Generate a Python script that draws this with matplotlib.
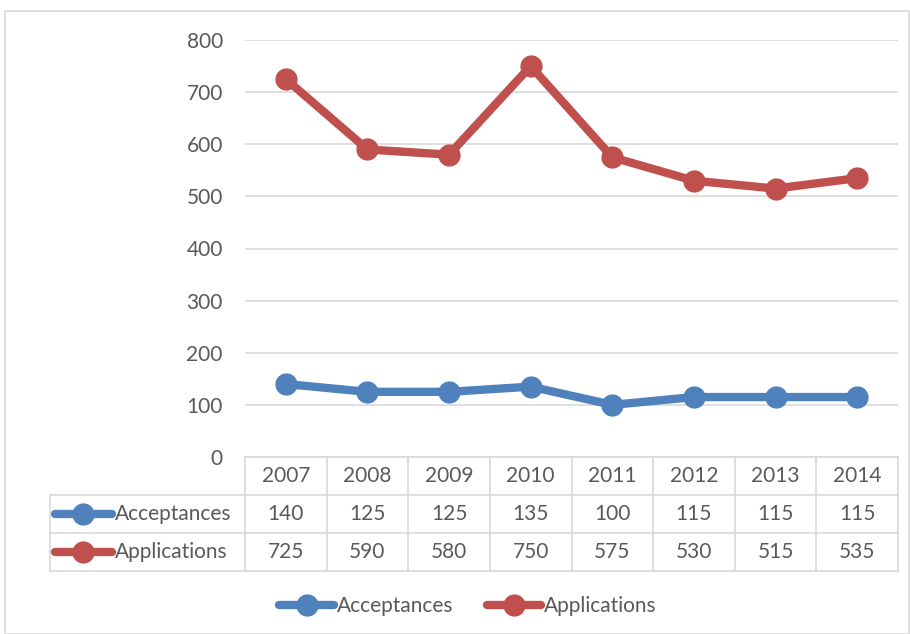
import matplotlib
matplotlib.use("Agg")
import matplotlib.pyplot as plt
from matplotlib.lines import Line2D
from matplotlib.patches import Rectangle

years = ["2007", "2008", "2009", "2010", "2011", "2012", "2013", "2014"]
acceptances = [140, 125, 125, 135, 100, 115, 115, 115]
applications = [725, 590, 580, 750, 575, 530, 515, 535]
series_names = ["Acceptances", "Applications"]
yticks = [0, 100, 200, 300, 400, 500, 600, 700, 800]

BLUE = "#4F81BD"
RED = "#C0504D"
GRID = "#D9D9D9"
TXT = "#595959"
FS = 15

plt.rcParams["font.family"] = ["Lato", "DejaVu Sans"]

W, H = 910, 634
fig = plt.figure(figsize=(W / 100, H / 100), dpi=100)

# outer chart border
fig.patches.append(Rectangle((5 / W, 0), (W - 6) / W, 1 - 11 / H, transform=fig.transFigure,
                             fill=False, edgecolor=GRID, lw=1.2))

# plot area in pixels
px_l, px_r, px_top, px_bot = 245, 898, 40, 457
ax = fig.add_axes([px_l / W, 1 - px_bot / H, (px_r - px_l) / W, (px_bot - px_top) / H])
x = list(range(len(years)))
ax.plot(x, acceptances, color=BLUE, lw=6, marker="o", ms=15, solid_capstyle="round", zorder=3)
ax.plot(x, applications, color=RED, lw=6, marker="o", ms=15, solid_capstyle="round", zorder=3)
ax.set_xlim(-0.5, len(years) - 0.5)
ax.set_ylim(0, 800)
ax.set_yticks(yticks)
ax.yaxis.grid(True, color=GRID, lw=1.2)
ax.set_axisbelow(True)
ax.set_xticks([])
for s in ax.spines.values():
    s.set_visible(False)
ax.tick_params(axis="y", length=0, pad=16, labelsize=FS, labelcolor=TXT)

# data table below the axis
unit = (px_r - px_l) / len(years)
tbl_l, tbl_top, row_h = 50, 457, 38
tx = fig.add_axes([tbl_l / W, 1 - (tbl_top + 3 * row_h) / H, (px_r - tbl_l) / W, 3 * row_h / H])
x0 = -0.5 - (px_l - tbl_l) / unit
xe = len(years) - 0.5
tx.set_xlim(x0, xe)
tx.set_ylim(3, 0)
tx.axis("off")
lc = dict(color=GRID, lw=1.2, clip_on=False)
# horizontal lines
tx.plot([-0.5, xe], [0, 0], **lc)
for r in (1, 2, 3):
    tx.plot([x0, xe], [r, r], **lc)
# vertical lines
for i in range(len(years) + 1):
    tx.plot([i - 0.5, i - 0.5], [0, 3], **lc)
tx.plot([x0, x0], [1, 3], **lc)

for i, yr in enumerate(years):
    tx.text(i, 0.5, yr, ha="center", va="center", fontsize=FS, color=TXT)
for r, (vals, col) in enumerate([(acceptances, BLUE), (applications, RED)], start=1):
    for i, v in enumerate(vals):
        tx.text(i, r + 0.5, str(v), ha="center", va="center", fontsize=FS, color=TXT)
    tx.plot([x0 + 0.06, x0 + 0.76], [r + 0.5, r + 0.5], color=col, lw=6, solid_capstyle="round", clip_on=False)
    tx.plot([x0 + 0.41], [r + 0.5], "o", color=col, ms=15, clip_on=False)
    tx.text(x0 + 0.8, r + 0.5, series_names[r - 1], ha="left", va="center", fontsize=FS, color=TXT)

# legend
handles = [Line2D([], [], color=c, lw=6, marker="o", ms=15, solid_capstyle="round") for c in (BLUE, RED)]
fig.legend(handles, series_names, loc="center", bbox_to_anchor=(468 / W, 1 - 606 / H), ncol=2,
           frameon=False, fontsize=FS, labelcolor=TXT, handlelength=2.6, handletextpad=0.15,
           columnspacing=1.6)

fig.savefig("out.png", dpi=100)
